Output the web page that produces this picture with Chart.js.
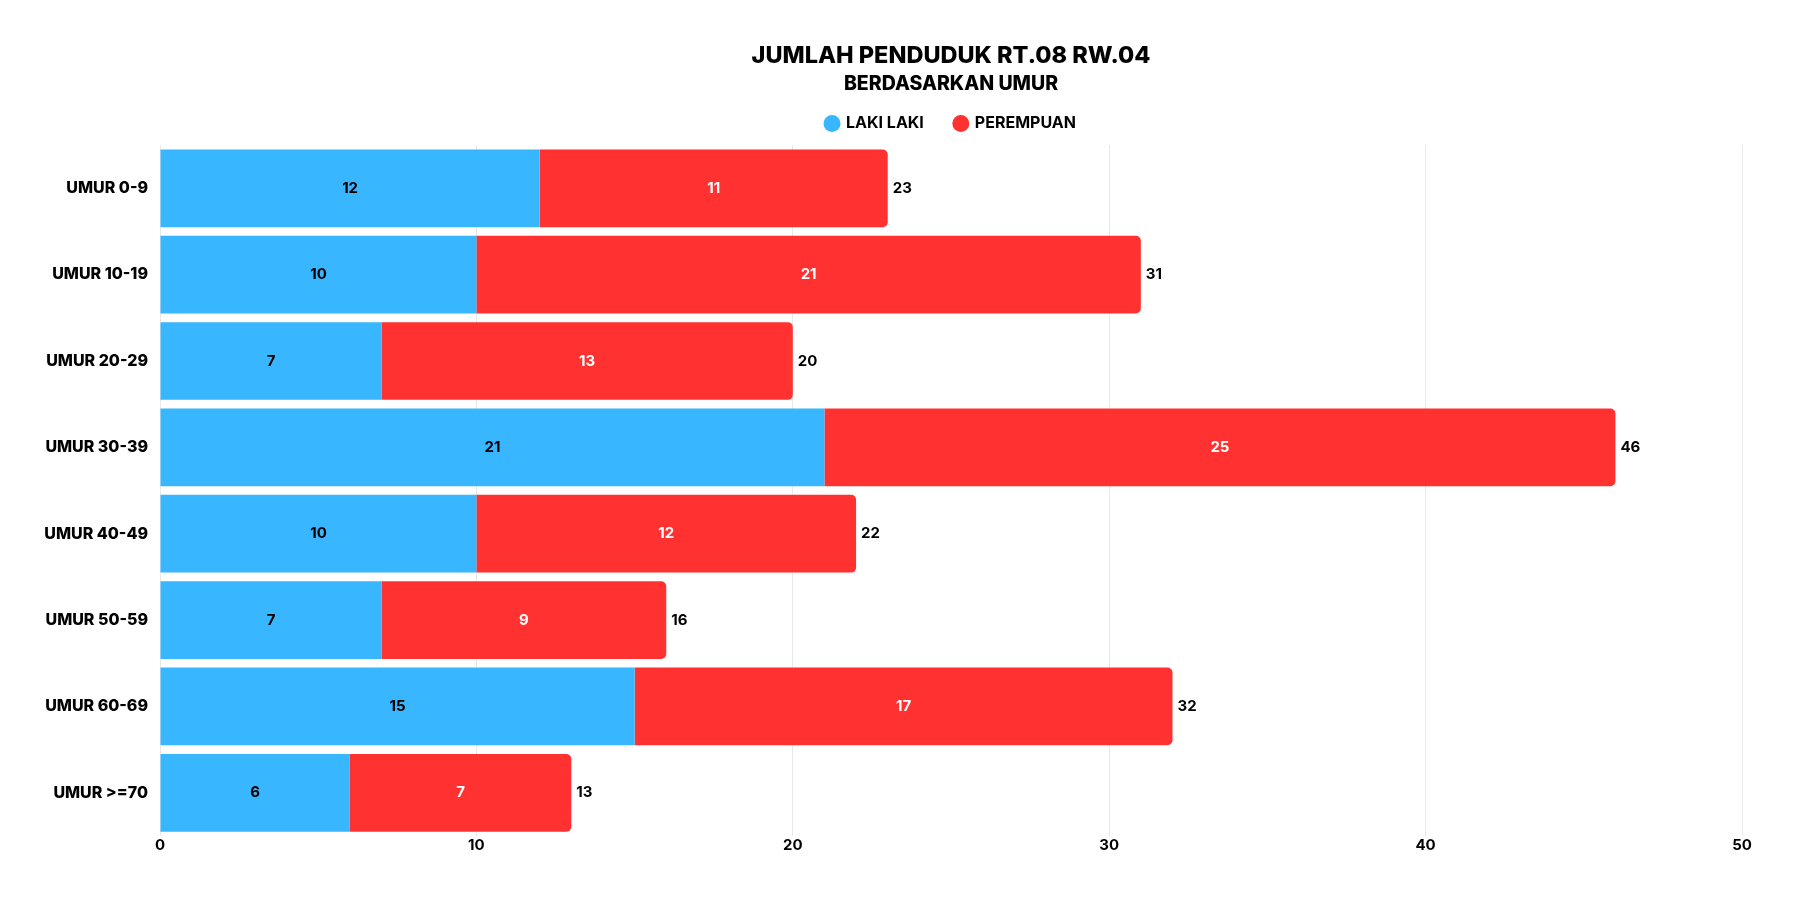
<!DOCTYPE html>
<html>
<head>
<meta charset="utf-8">
<script src="https://cdn.jsdelivr.net/npm/chart.js@4.4.1/dist/chart.umd.min.js"></script>
<style>
  html, body { margin: 0; padding: 0; background: #ffffff; }
  #wrap { width: 1800px; height: 900px; position: relative; }
</style>
</head>
<body>
<div id="wrap"><canvas id="c"></canvas></div>
<script>
const categories = ["UMUR 0-9", "UMUR 10-19", "UMUR 20-29", "UMUR 30-39", "UMUR 40-49", "UMUR 50-59", "UMUR 60-69", "UMUR >=70"];
const lakiLaki = [12, 10, 7, 21, 10, 7, 15, 6];
const perempuan = [11, 21, 13, 25, 12, 9, 17, 7];
const seriesNames = ["LAKI LAKI", "PEREMPUAN"];
const xTicks = [0, 10, 20, 30, 40, 50];
const titleText = "JUMLAH PENDUDUK RT.08 RW.04";
const subtitleText = "BERDASARKAN UMUR";

const FONT = "Inter";

const legendSpacer = {
  id: 'legendSpacer',
  beforeInit(chart) {
    const legend = chart.legend;
    const origFit = legend.fit;
    legend.fit = function () {
      origFit.call(this);
      this.height += 3.5;
    };
  }
};

const valueLabels = {
  id: 'valueLabels',
  afterDatasetsDraw(chart) {
    const ctx = chart.ctx;
    ctx.save();
    ctx.font = "700 15px " + FONT;
    ctx.textBaseline = 'middle';
    const colors = ['#000000', '#ffffff'];
    chart.data.datasets.forEach((ds, di) => {
      const meta = chart.getDatasetMeta(di);
      meta.data.forEach((bar, i) => {
        const v = ds.data[i];
        ctx.fillStyle = colors[di];
        ctx.textAlign = 'center';
        ctx.fillText(String(v), (bar.x + bar.base) / 2, bar.y);
      });
    });
    const last = chart.getDatasetMeta(chart.data.datasets.length - 1);
    last.data.forEach((bar, i) => {
      let total = 0;
      chart.data.datasets.forEach(ds => total += ds.data[i]);
      ctx.fillStyle = '#000000';
      ctx.textAlign = 'left';
      ctx.fillText(String(total), bar.x + 5, bar.y);
    });
    ctx.restore();
  }
};

new Chart(document.getElementById('c'), {
  type: 'bar',
  data: {
    labels: categories,
    datasets: [
      {
        label: seriesNames[0],
        data: lakiLaki,
        backgroundColor: '#38B6FF',
        borderWidth: 0,
        borderRadius: 0,
        barPercentage: 0.9,
        categoryPercentage: 1.0
      },
      {
        label: seriesNames[1],
        data: perempuan,
        backgroundColor: '#FF3131',
        borderWidth: 0,
        borderRadius: 5,
        borderSkipped: 'start',
        barPercentage: 0.9,
        categoryPercentage: 1.0
      }
    ]
  },
  options: {
    indexAxis: 'y',
    responsive: true,
    maintainAspectRatio: false,
    animation: false,
    layout: { padding: { top: 42, right: 58, bottom: 46, left: 0 } },
    scales: {
      x: {
        stacked: true,
        min: 0,
        max: 50,
        afterBuildTicks(axis) { axis.ticks = xTicks.map(v => ({ value: v })); },
        ticks: {
          color: '#000000',
          font: { family: FONT, size: 15, weight: '700' },
          padding: 0
        },
        grid: { color: '#e8e8e8', drawTicks: false, lineWidth: 1 },
        border: { display: false }
      },
      y: {
        stacked: true,
        afterFit(axis) { axis.width = 160; },
        ticks: {
          color: '#000000',
          font: { family: FONT, size: 16, weight: '800' },
          padding: 12
        },
        grid: { display: false, drawTicks: false },
        border: { display: false }
      }
    },
    plugins: {
      title: {
        display: true,
        fullSize: false,
        text: titleText,
        color: '#000000',
        font: { family: FONT, size: 23.5, weight: '800' },
        padding: { top: 0, bottom: 2.5 }
      },
      subtitle: {
        display: true,
        fullSize: false,
        text: subtitleText,
        color: '#000000',
        font: { family: FONT, size: 19.5, weight: '800' },
        padding: { top: 0, bottom: -11.5 }
      },
      legend: {
        display: true,
        fullSize: false,
        position: 'top',
        labels: {
          usePointStyle: true,
          pointStyle: 'circle',
          boxWidth: 12,
          boxHeight: 12,
          color: '#000000',
          font: { family: FONT, size: 16, weight: '700' },
          padding: 31
        }
      },
      tooltip: { enabled: false }
    }
  },
  plugins: [legendSpacer, valueLabels]
});
</script>
</body>
</html>
